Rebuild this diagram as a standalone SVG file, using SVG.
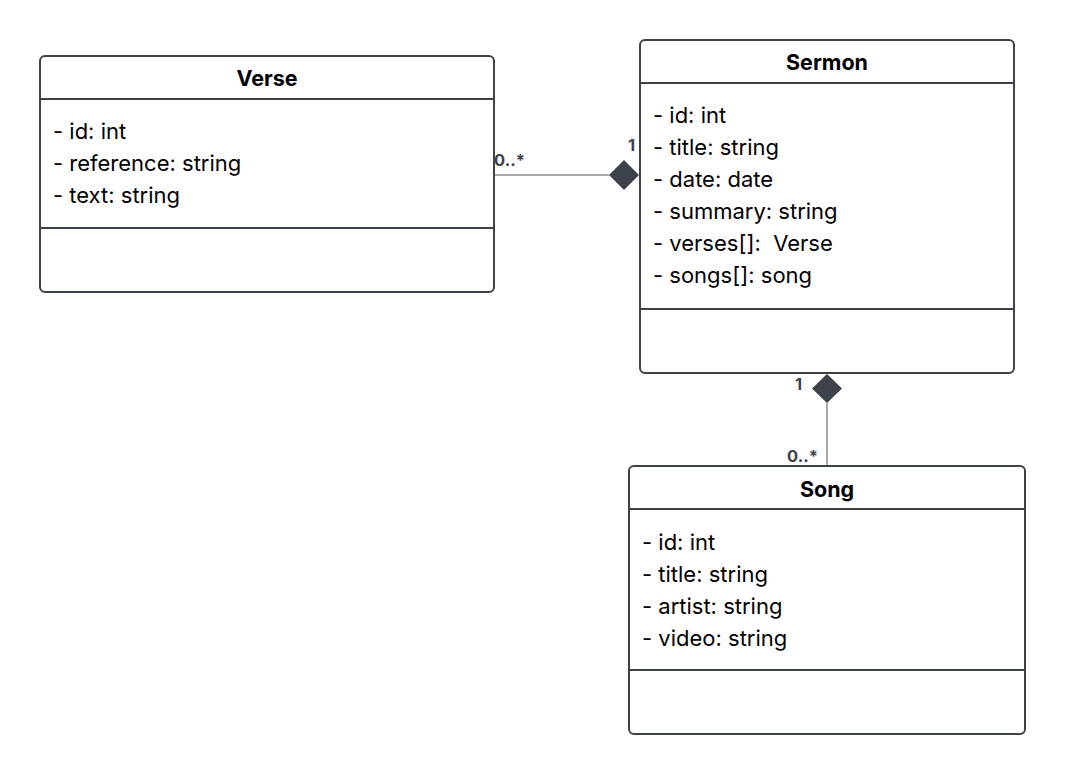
<svg xmlns="http://www.w3.org/2000/svg" width="1065" height="774" viewBox="0 0 1065 774">
<style>
.box{fill:#fff;stroke:#3d424b;stroke-width:2}
.sep{stroke:#3d424b;stroke-width:2}
.title{font-family:Inter,"Liberation Sans",sans-serif;font-size:21.5px;font-weight:bold;fill:#000;text-anchor:middle}
.attr{font-family:Inter,"Liberation Sans",sans-serif;font-size:22px;fill:#000}
.mult{font-family:Inter,"Liberation Sans",sans-serif;font-size:16.5px;font-weight:bold;fill:#3d424b}
.conn{stroke:#555;stroke-width:1;fill:none}
.dia{fill:#3d424b}
</style>
<rect width="1065" height="774" fill="#fff"/>
<g id="connectors">
<line class="conn" x1="494" y1="175" x2="609" y2="175"/>
<polygon class="dia" points="609,175 624,160 639,175 624,190"/>
<text class="mult" x="494" y="166">0..*</text>
<text class="mult" x="628" y="151">1</text>
<line class="conn" x1="827" y1="403" x2="827" y2="466"/>
<polygon class="dia" points="827,374 842,388.5 827,403 812,388.5"/>
<text class="mult" x="795" y="390">1</text>
<text class="mult" x="818" y="462" text-anchor="end">0..*</text>
</g>
<g id="verse">
<rect class="box" x="40" y="56" width="454" height="236" rx="5"/>
<line class="sep" x1="40" y1="99" x2="494" y2="99"/>
<line class="sep" x1="40" y1="228" x2="494" y2="228"/>
<text class="title" x="267" y="86">Verse</text>
<text class="attr" x="53" y="139">- id: int</text>
<text class="attr" x="53" y="171">- reference: string</text>
<text class="attr" x="53" y="203">- text: string</text>
</g>
<g id="sermon">
<rect class="box" x="640" y="40" width="374" height="333" rx="5"/>
<line class="sep" x1="640" y1="83" x2="1014" y2="83"/>
<line class="sep" x1="640" y1="309" x2="1014" y2="309"/>
<text class="title" x="827" y="70">Sermon</text>
<text class="attr" x="653" y="123">- id: int</text>
<text class="attr" x="653" y="155">- title: string</text>
<text class="attr" x="653" y="187">- date: date</text>
<text class="attr" x="653" y="219">- summary: string</text>
<text class="attr" x="653" y="251" xml:space="preserve">- verses[]:  Verse</text>
<text class="attr" x="653" y="283">- songs[]: song</text>
</g>
<g id="song">
<rect class="box" x="629" y="466" width="396" height="268" rx="5"/>
<line class="sep" x1="629" y1="509" x2="1025" y2="509"/>
<line class="sep" x1="629" y1="670" x2="1025" y2="670"/>
<text class="title" x="827" y="497">Song</text>
<text class="attr" x="642" y="550">- id: int</text>
<text class="attr" x="642" y="582">- title: string</text>
<text class="attr" x="642" y="614">- artist: string</text>
<text class="attr" x="642" y="646">- video: string</text>
</g>
</svg>
